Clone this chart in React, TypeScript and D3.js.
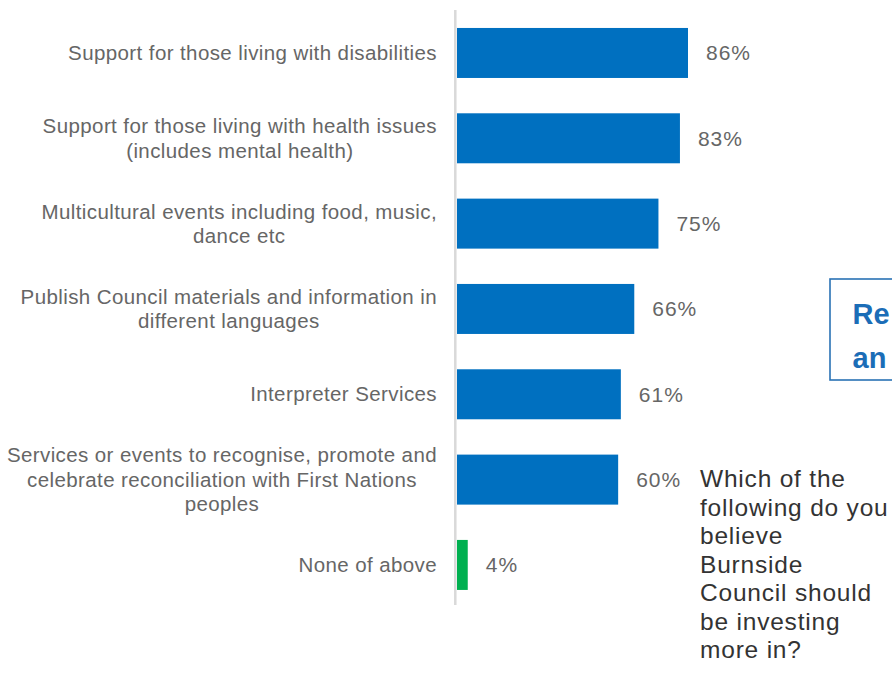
import React, { useEffect, useRef } from "react";
import * as d3 from "d3";

const categories: string[][] = [
  ["Support for those living with disabilities"],
  ["Support for those living with health issues", "(includes mental health)"],
  ["Multicultural events including food, music,", "dance etc"],
  ["Publish Council materials and information in", "different languages"],
  ["Interpreter Services"],
  ["Services or events to recognise, promote and", "celebrate reconciliation with First Nations", "peoples"],
  ["None of above"],
];
const values: number[] = [86, 83, 75, 66, 61, 60, 4];
const isNone: boolean[] = [false, false, false, false, false, false, true];
const questionLines: string[] = [
  "Which of the",
  "following do you",
  "believe",
  "Burnside",
  "Council should",
  "be investing",
  "more in?",
];
const boxLines: string[] = ["Re", "an"];

const W = 892;
const H = 680;

export default function App() {
  const ref = useRef<SVGSVGElement | null>(null);

  useEffect(() => {
    const svg = d3.select(ref.current);
    svg.selectAll("*").remove();

    const idx = categories.map((_, i) => String(i));
    const y = d3
      .scaleBand<string>()
      .domain(idx)
      .range([10.3, 607.6])
      .paddingInner(0.414)
      .paddingOuter(0.207);
    const x = d3.scaleLinear().domain([0, 100]).range([457, 725.6]);

    // bars
    svg
      .append("g")
      .selectAll("rect")
      .data(values)
      .join("rect")
      .attr("x", x(0))
      .attr("y", (_, i) => y(String(i))!)
      .attr("width", (d) => x(d) - x(0))
      .attr("height", y.bandwidth())
      .attr("fill", (_, i) => (isNone[i] ? "#00b050" : "#0070c0"));

    // axis line
    svg
      .append("line")
      .attr("x1", 455.3)
      .attr("x2", 455.3)
      .attr("y1", 10)
      .attr("y2", 605)
      .attr("stroke", "#d9d9d9")
      .attr("stroke-width", 2.5);

    // value labels
    svg
      .append("g")
      .selectAll("text")
      .data(values)
      .join("text")
      .attr("x", (d) => x(d) + 18)
      .attr("y", (_, i) => y(String(i))! + y.bandwidth() / 2 + 21 * 0.35)
      .attr("font-family", "'Liberation Sans', Arial, sans-serif")
      .attr("font-size", 21)
      .attr("letter-spacing", 1)
      .attr("fill", "#666666")
      .text((d) => `${d}%`);

    // category labels
    const fs = 20.5;
    const lh = 24.5;
    const right = 437;
    const lg = svg.append("g");
    categories.forEach((lines, i) => {
      const cy = y(String(i))! + y.bandwidth() / 2;
      const texts = lines.map((line, k) =>
        lg
          .append("text")
          .attr("y", cy + (k - (lines.length - 1) / 2) * lh + fs * 0.35)
          .attr("font-family", "'Liberation Sans', Arial, sans-serif")
          .attr("font-size", fs)
          .attr("letter-spacing", 0.4)
          .attr("fill", "#666666")
          .attr("text-anchor", "middle")
          .text(line)
      );
      const widths = texts.map((t) => (t.node() as SVGTextElement).getComputedTextLength());
      const maxW = d3.max(widths) || 0;
      texts.forEach((t) => t.attr("x", right - maxW / 2));
    });

    // right box
    svg
      .append("rect")
      .attr("x", 830)
      .attr("y", 279)
      .attr("width", 120)
      .attr("height", 101)
      .attr("fill", "none")
      .attr("stroke", "#2a72b5")
      .attr("stroke-width", 1.6);
    svg
      .append("g")
      .selectAll("text")
      .data(boxLines)
      .join("text")
      .attr("x", 852.5)
      .attr("y", (_, k) => 323.5 + k * 44)
      .attr("font-family", "'Liberation Sans', Arial, sans-serif")
      .attr("font-weight", "bold")
      .attr("font-size", 29)
      .attr("fill", "#1b6db7")
      .text((d) => d);

    // question text
    svg
      .append("g")
      .selectAll("text")
      .data(questionLines)
      .join("text")
      .attr("x", 700)
      .attr("y", (_, k) => 487 + k * 28.5)
      .attr("font-family", "'Liberation Sans', Arial, sans-serif")
      .attr("font-size", 24.5)
      .attr("letter-spacing", 0.8)
      .attr("fill", "#333333")
      .text((d) => d);
  }, []);

  return (
    <svg
      ref={ref}
      width={W}
      height={H}
      style={{ position: "absolute", left: 0, top: 0, background: "#ffffff" }}
    />
  );
}
